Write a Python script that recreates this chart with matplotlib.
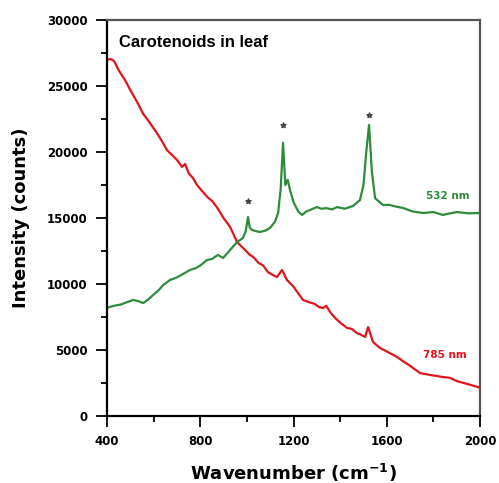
import matplotlib
matplotlib.use("Agg")
import matplotlib.pyplot as plt
import numpy as np

# spectra
wn_785 = [400, 415, 430, 450, 477, 500, 529, 555, 580, 614, 640, 657, 683, 700, 722, 735,
          750, 770, 786, 810, 830, 850, 872, 900, 928, 958, 985, 1013, 1027, 1050, 1070,
          1090, 1112, 1129, 1151, 1172, 1200, 1220, 1241, 1270, 1290, 1310, 1327, 1340,
          1360, 1380, 1405, 1430, 1450, 1470, 1490, 1507, 1520, 1541, 1571, 1610, 1644,
          1670, 1700, 1743, 1790, 1841, 1870, 1900, 1950, 2000]
int_785 = [26970, 27050, 26900, 26200, 25450, 24700, 23790, 22900, 22300, 21440, 20700,
           20150, 19700, 19400, 18870, 19090, 18400, 18000, 17500, 17000, 16600, 16300,
           15800, 15000, 14320, 13180, 12700, 12200, 12050, 11600, 11400, 10900, 10680,
           10530, 11060, 10300, 9800, 9300, 8790, 8600, 8500, 8250, 8180, 8350, 7800, 7400,
           7000, 6670, 6600, 6300, 6150, 5980, 6740, 5610, 5150, 4800, 4470, 4150, 3800,
           3250, 3100, 2950, 2900, 2650, 2400, 2150]

wn_532 = [400, 430, 460, 490, 512, 535, 555, 575, 598, 620, 640, 670, 700, 720, 756, 780,
          800, 829, 850, 876, 898, 928, 958, 983, 995, 1005, 1012, 1022, 1040, 1056, 1080,
          1099, 1120, 1134, 1145, 1155, 1165, 1175, 1185, 1200, 1220, 1237, 1255, 1270,
          1300, 1320, 1340, 1365, 1387, 1420, 1455, 1485, 1500, 1512, 1524, 1536, 1550,
          1584, 1610, 1630, 1670, 1710, 1756, 1800, 1841, 1870, 1900, 1950, 2000]
int_532 = [8200, 8350, 8450, 8650, 8790, 8700, 8560, 8800, 9170, 9500, 9900, 10300, 10500,
           10700, 11060, 11200, 11400, 11820, 11900, 12200, 11970, 12580, 13180, 13480,
           14000, 15080, 14300, 14090, 14000, 13940, 14050, 14240, 14700, 15380, 17200,
           20700, 17500, 17900, 17120, 16200, 15500, 15230, 15500, 15600, 15830, 15700,
           15750, 15650, 15830, 15700, 15910, 16360, 17500, 20000, 22050, 18500, 16500,
           15980, 16000, 15900, 15760, 15500, 15380, 15450, 15230, 15350, 15450, 15350,
           15380]

# carotenoid bands marked with asterisks
star_wn = [1005, 1155, 1524]
star_int = [16300, 22050, 22800]

red = "#e0141c"
green = "#2e8b3b"

plt.rcParams["font.family"] = ["DejaVu Sans"]
plt.rcParams["font.weight"] = "bold"
plt.rcParams["mathtext.default"] = "bf"

fig = plt.figure(figsize=(4.99, 4.83), dpi=100)
ax = fig.add_axes([0.2144, 0.1387, 0.962 - 0.2144, 0.9586 - 0.1387])

ax.plot(wn_785, int_785, color=red, lw=1.6)
ax.plot(wn_532, int_532, color=green, lw=1.6)
ax.scatter(star_wn, star_int, marker="*", s=14, color="#444444", zorder=5)

ax.text(1860, 16700, "532 nm", color=green, fontsize=7.5, ha="center", va="center", weight="bold")
ax.text(1850, 4600, "785 nm", color=red, fontsize=7.5, ha="center", va="center", weight="bold")
ax.text(452, 28300, "Carotenoids in leaf", fontsize=12, ha="left", va="center",
        weight="bold", family="Liberation Sans")

ax.set_xlim(400, 2000)
ax.set_ylim(0, 30000)
ax.set_xticks([400, 800, 1200, 1600, 2000])
ax.set_xticks([600, 1000, 1400, 1800], minor=True)
ax.set_yticks([0, 5000, 10000, 15000, 20000, 25000, 30000])
ax.set_yticks(np.arange(2500, 30000, 5000), minor=True)
ax.tick_params(which="major", direction="out", length=8, width=1.3, labelsize=8.5)
ax.tick_params(axis="x", which="major", pad=6)
ax.tick_params(axis="y", which="major", pad=6)
ax.tick_params(which="minor", direction="out", length=4.5, width=1.3)
for lab in ax.get_xticklabels() + ax.get_yticklabels():
    lab.set_fontweight("bold")

for sp in ["left", "bottom"]:
    ax.spines[sp].set_linewidth(1.6)
for sp in ["top", "right"]:
    ax.spines[sp].set_linewidth(1.6)
    ax.spines[sp].set_color("#555555")

ax.set_xlabel("Wavenumber (cm$^{-1}$)", fontsize=13, weight="bold", labelpad=10)
ax.set_ylabel("Intensity (counts)", fontsize=13, weight="bold", labelpad=12)

fig.savefig("out.png", dpi=100)
